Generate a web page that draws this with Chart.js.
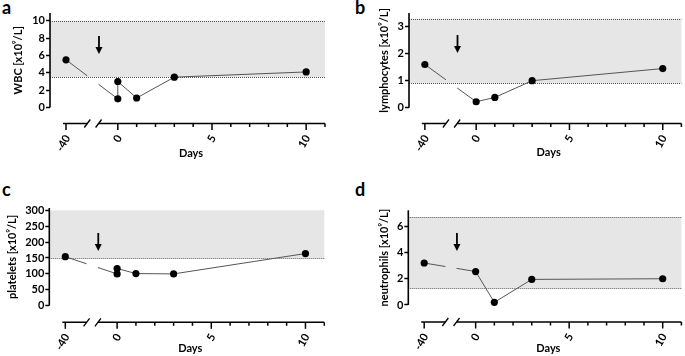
<!DOCTYPE html>
<html>
<head>
<meta charset="utf-8">
<script src="https://cdn.jsdelivr.net/npm/chart.js@4/dist/chart.umd.min.js"></script>
<style>
  body { margin: 0; background: #fff; width: 685px; height: 356px; position: relative; overflow: hidden; }
  canvas { position: absolute; }
  .tag { position: absolute; font: bold 18px Lato, sans-serif; line-height: 18px; color: #000; }
</style>
</head>
<body>
<div class="tag" style="left:2px;top:-2px">a</div>
<div class="tag" style="left:355px;top:-2px">b</div>
<div class="tag" style="left:2px;top:180px">c</div>
<div class="tag" style="left:355px;top:180px">d</div>
<canvas id="a" width="342" height="160" style="left:0;top:0"></canvas>
<canvas id="b" width="340" height="160" style="left:345px;top:0"></canvas>
<canvas id="c" width="342" height="160" style="left:0;top:196px"></canvas>
<canvas id="d" width="340" height="160" style="left:345px;top:196px"></canvas>
<script>
// values (days relative to treatment)
const wbcDays = [-40, 0, 0, 1, 3, 10];
const wbc = [5.5, 1.0, 3.0, 1.1, 3.5, 4.1];
const lymphDays = [-40, 0, 1, 3, 10];
const lymph = [1.6, 0.22, 0.38, 1.0, 1.45];
const pltDays = [-40, 0, 0, 1, 3, 10];
const plt = [154, 100, 117, 101, 100, 164];
const neutDays = [-40, 0, 1, 3, 10];
const neut = [3.2, 2.55, 0.2, 1.95, 2.0];

// normal ranges (grey band)
const wbcRange = [3.5, 10];
const lymphRange = [0.9, 3.3];
const pltRange = [150, 300];
const neutRange = [1.3, 6.7];

const xLabelDays = [-40, 0, 5, 10];
const xMinorDays = [0, 1, 2, 3, 4, 5, 6, 7, 8, 9, 10, 11];
const wbcTicks = [0, 2, 4, 6, 8, 10];
const lymphTicks = [0, 1, 2, 3];
const pltTicks = [0, 50, 100, 150, 200, 250, 300];
const neutTicks = [0, 2, 4, 6];
const arrowDay = -1;

// broken x axis: day -40 is pulled in next to day 0
const dayPos = d => (d <= -40 ? d + 37.25 : d);
const breakFrom = -1.62, breakTo = -1.02;
const xTickPos = [dayPos(-40)].concat(xMinorDays);

const FONT = 'Lato, sans-serif';
const H = 160;

const xLabel = v => {
  const d = xLabelDays.find(d => dayPos(d) === v);
  return d === undefined ? '' : String(d);
};

// leave a hole in the segment that crosses the axis break
function breakDash(ctx) {
  const x = ctx.chart.scales.x;
  const a = x.getPixelForValue(breakFrom), b = x.getPixelForValue(breakTo);
  const p0 = ctx.p0, p1 = ctx.p1;
  if (!(p0.x < a && p1.x > b)) return undefined;
  const dx = p1.x - p0.x, len = Math.hypot(dx, p1.y - p0.y);
  const f = (a - p0.x) / dx, g = (b - p0.x) / dx;
  return [len * f, len * (g - f), len];
}

const decor = {
  id: 'decor',
  beforeDatasetsDraw(chart, args, o) {
    const { ctx, chartArea: ca, scales: { y } } = chart;
    const yTop = y.getPixelForValue(o.range[1]), yBot = y.getPixelForValue(o.range[0]);
    ctx.save();
    ctx.fillStyle = '#e6e6e6';
    ctx.fillRect(ca.left, yTop, ca.right - ca.left, yBot - yTop);
    ctx.strokeStyle = '#555';
    ctx.lineWidth = 1;
    ctx.setLineDash([1, 1]);
    [yBot, yTop].forEach((yy, i) => {
      if (!o.rangeLines[i]) return;
      ctx.beginPath();
      ctx.moveTo(ca.left, Math.round(yy) + 0.5);
      ctx.lineTo(ca.right, Math.round(yy) + 0.5);
      ctx.stroke();
    });
    ctx.restore();
  },
  afterDraw(chart, args, o) {
    const { ctx, chartArea: ca, scales: { x, y } } = chart;
    ctx.save();
    ctx.strokeStyle = '#000';
    ctx.fillStyle = '#000';
    ctx.lineWidth = 1.6;
    // y axis line from 0 up
    ctx.beginPath();
    ctx.moveTo(ca.left, y.getPixelForValue(0));
    ctx.lineTo(ca.left, ca.top);
    ctx.stroke();
    // x axis with break
    const by = ca.bottom;
    const a = x.getPixelForValue(breakFrom), b = x.getPixelForValue(breakTo);
    const x0 = x.getPixelForValue(dayPos(-40)) - 3;
    ctx.beginPath();
    ctx.moveTo(x0, by);
    ctx.lineTo(a, by);
    ctx.moveTo(b, by);
    ctx.lineTo(ca.right, by);
    ctx.stroke();
    ctx.lineWidth = 1.3;
    [a, b].forEach(px => {
      ctx.beginPath();
      ctx.moveTo(px - 3, by + 4);
      ctx.lineTo(px + 3, by - 4);
      ctx.stroke();
    });
    // x tick marks and rotated labels
    ctx.font = 'bold 11px ' + FONT;
    x.ticks.forEach(t => {
      const px = x.getPixelForValue(t.value);
      const lab = xLabel(t.value);
      ctx.lineWidth = 1.5;
      ctx.beginPath();
      ctx.moveTo(px, by);
      ctx.lineTo(px, by + (lab ? 6.5 : 3.5));
      ctx.stroke();
      if (!lab) return;
      ctx.save();
      ctx.translate(px + 1.5, by + 12.5);
      ctx.rotate(-Math.PI / 3);
      ctx.textAlign = 'right';
      ctx.textBaseline = 'middle';
      ctx.fillText(lab, 0, 0);
      ctx.restore();
    });
    // x title
    ctx.textAlign = 'center';
    ctx.textBaseline = 'middle';
    ctx.fillText('Days', (ca.left + ca.right) / 2 + 3.5, o.daysY);
    // treatment arrow
    const ax = x.getPixelForValue(arrowDay);
    ctx.lineWidth = 1.8;
    ctx.beginPath();
    ctx.moveTo(ax, o.arrowTop);
    ctx.lineTo(ax, o.arrowTip - 5);
    ctx.stroke();
    ctx.beginPath();
    ctx.moveTo(ax - 3.5, o.arrowTip - 7);
    ctx.lineTo(ax + 3.5, o.arrowTip - 7);
    ctx.lineTo(ax, o.arrowTip);
    ctx.closePath();
    ctx.fill();
    // y title with superscript
    const cy = (y.getPixelForValue(0) + ca.top) / 2;
    const [main, sup, tail] = o.title;
    ctx.translate(o.titleX, cy);
    ctx.rotate(-Math.PI / 2);
    ctx.textBaseline = 'middle';
    ctx.textAlign = 'left';
    const big = 'bold 11px ' + FONT, small = 'bold 6px ' + FONT;
    ctx.font = big;
    const w1 = ctx.measureText(main).width, w3 = ctx.measureText(tail).width;
    ctx.font = small;
    const w2 = ctx.measureText(sup).width;
    let tx = -(w1 + w2 + w3) / 2;
    ctx.font = big;
    ctx.fillText(main, tx, 0);
    tx += w1;
    ctx.font = small;
    ctx.fillText(sup, tx, -4);
    tx += w2;
    ctx.font = big;
    ctx.fillText(tail, tx, 0);
    ctx.restore();
  }
};

function makeChart(p) {
  return new Chart(document.getElementById(p.id), {
    type: 'line',
    data: {
      datasets: [{
        data: p.days.map((d, i) => ({ x: dayPos(d), y: p.values[i] })),
        borderColor: '#555',
        borderWidth: 1,
        pointRadius: 3.6,
        pointHoverRadius: 3.6,
        pointBackgroundColor: '#000',
        pointBorderWidth: 0,
        segment: { borderDash: breakDash }
      }]
    },
    options: {
      responsive: false,
      animation: false,
      events: [],
      layout: { padding: { top: p.padTop, right: p.w - p.right, left: 0, bottom: 0 } },
      plugins: {
        legend: { display: false },
        tooltip: { enabled: false },
        decor: { range: p.range, rangeLines: p.rangeLines, title: p.title, titleX: p.titleX,
          arrowTop: p.arrowTop, arrowTip: p.arrowTip, daysY: p.daysY }
      },
      scales: {
        x: {
          type: 'linear',
          min: -3.6,
          max: 11,
          grid: { display: false },
          border: { display: false },
          afterBuildTicks: s => { s.ticks = xTickPos.map(v => ({ value: v })); },
          afterFit: s => { s.height = H - p.axisY; s.paddingLeft = 0; s.paddingRight = 0; },
          ticks: { display: false }
        },
        y: {
          min: p.yMin,
          max: p.yMax,
          afterBuildTicks: s => { s.ticks = p.yTicks.map(v => ({ value: v })); },
          afterFit: s => { s.width = p.yW; },
          grid: { display: true, drawOnChartArea: false, drawTicks: true, tickLength: 4, tickWidth: 1.5, tickColor: '#000' },
          border: { display: false },
          ticks: { padding: 1, color: '#000', font: { family: FONT, weight: 'bold', size: 11 } }
        }
      }
    },
    plugins: [decor]
  });
}

makeChart({ id: 'a', days: wbcDays, values: wbc, range: wbcRange, rangeLines: [1, 1], yTicks: wbcTicks,
  yMin: -1.84, yMax: 10.89, w: 342, right: 325, yW: 50, padTop: 13, axisY: 123.5, daysY: 153,
  titleX: 18, arrowTop: 36, arrowTip: 54, title: ['WBC [x10', '9', '/L]'] });
makeChart({ id: 'b', days: lymphDays, values: lymph, range: lymphRange, rangeLines: [1, 1], yTicks: lymphTicks,
  yMin: -0.585, yMax: 3.507, w: 340, right: 339.3, yW: 64, padTop: 13, axisY: 123.5, daysY: 152.5,
  titleX: 39, arrowTop: 35, arrowTip: 53, title: ['lymphocytes [x10', '9', '/L]'] });
makeChart({ id: 'c', days: pltDays, values: plt, range: pltRange, rangeLines: [1, 0], yTicks: pltTicks,
  yMin: -52.2, yMax: 307.2, w: 342, right: 324.3, yW: 49.3, padTop: 12, axisY: 126.3, daysY: 152.7,
  titleX: 12, arrowTop: 37, arrowTip: 55, title: ['platelets [x10', '9', '/L]'] });
makeChart({ id: 'd', days: neutDays, values: neut, range: neutRange, rangeLines: [1, 1], yTicks: neutTicks,
  yMin: -1.3, yMax: 7.22, w: 340, right: 339, yW: 63.3, padTop: 14.3, axisY: 126, daysY: 152.7,
  titleX: 39, arrowTop: 37, arrowTip: 55, title: ['neutrophils [x10', '9', '/L]'] });
</script>
</body>
</html>
